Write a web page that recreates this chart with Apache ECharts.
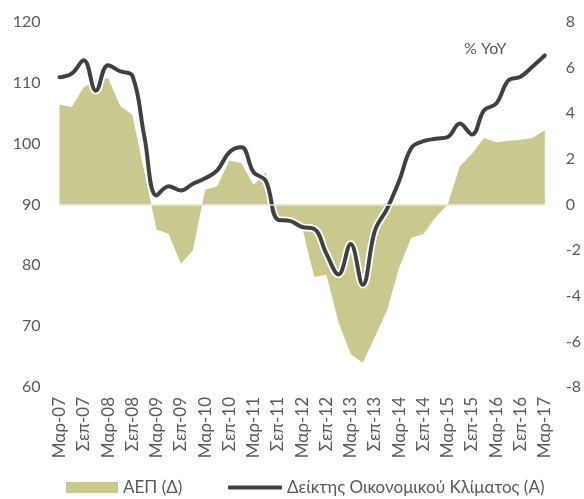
<!DOCTYPE html>
<html>
<head>
<meta charset="utf-8">
<script src="https://cdn.jsdelivr.net/npm/echarts@6/dist/echarts.min.js"></script>
<style>
html,body{margin:0;padding:0;background:#fff;}
#chart{width:584px;height:499px;}
</style>
</head>
<body>
<div id="chart"></div>
<script>
const categories = [
  'Μαρ-07','Ιουν-07','Σεπ-07','Δεκ-07',
  'Μαρ-08','Ιουν-08','Σεπ-08','Δεκ-08',
  'Μαρ-09','Ιουν-09','Σεπ-09','Δεκ-09',
  'Μαρ-10','Ιουν-10','Σεπ-10','Δεκ-10',
  'Μαρ-11','Ιουν-11','Σεπ-11','Δεκ-11',
  'Μαρ-12','Ιουν-12','Σεπ-12','Δεκ-12',
  'Μαρ-13','Ιουν-13','Σεπ-13','Δεκ-13',
  'Μαρ-14','Ιουν-14','Σεπ-14','Δεκ-14',
  'Μαρ-15','Ιουν-15','Σεπ-15','Δεκ-15',
  'Μαρ-16','Ιουν-16','Σεπ-16','Δεκ-16',
  'Μαρ-17'
];

// ΑΕΠ, % YoY (right axis)
const gdp = [
  4.37, 4.27, 5.14, 5.44,
  5.54, 4.33, 3.93, 1.40,
  -1.10, -1.29, -2.60, -2.00,
  0.65, 0.80, 1.93, 1.81,
  0.85, 1.43, -0.60, -0.65,
  -1.00, -3.18, -3.08, -5.16,
  -6.55, -6.94, -5.80, -4.65,
  -2.75, -1.46, -1.29, -0.56,
  0.00, 1.68, 2.22, 2.92,
  2.73, 2.78, 2.84, 2.92,
  3.25
];

// Δείκτης Οικονομικού Κλίματος (left axis)
const sentiment = [
  110.9, 111.5, 113.7, 108.7,
  112.9, 111.9, 111.2, 101.1,
  91.5, 93.0, 92.3, 93.4,
  94.3, 95.6, 98.6, 99.4,
  95.3, 93.9, 87.5, 87.3,
  86.3, 86.0, 81.9, 78.5,
  83.5, 76.8, 85.7, 89.3,
  93.9, 99.3, 100.4, 100.8,
  101.1, 103.3, 101.5, 105.5,
  106.6, 110.4, 111.0, 112.7,
  114.5
];

const leftTicks = {min: 60, max: 120, interval: 10};
const rightTicks = {min: -8, max: 8, interval: 2};

const gdpName = 'ΑΕΠ (Δ)';
const sentName = 'Δείκτης Οικονομικού Κλίματος (Α)';
const unitLabel = '% YoY';

const chart = echarts.init(document.getElementById('chart'), null, {renderer: 'canvas'});
const font = 'Lato, "Open Sans", sans-serif';
const txt = '#595959';
const olive = '#c8c88f';
const dark = '#404040';

chart.setOption({
  animation: false,
  textStyle: {fontFamily: font},
  grid: {left: 59.5, right: 32, top: 22, bottom: 112},
  xAxis: {
    type: 'category',
    data: categories,
    boundaryGap: false,
    axisLine: {show: false},
    axisTick: {show: false},
    splitLine: {show: false},
    axisLabel: {rotate: 90, interval: 1, margin: 10, color: txt, fontSize: 17, fontFamily: font}
  },
  yAxis: [
    {
      type: 'value', min: leftTicks.min, max: leftTicks.max, interval: leftTicks.interval,
      axisLine: {show: false}, axisTick: {show: false}, splitLine: {show: false},
      axisLabel: {color: txt, fontSize: 16, margin: 19, fontFamily: font}
    },
    {
      type: 'value', position: 'right', min: rightTicks.min, max: rightTicks.max, interval: rightTicks.interval,
      axisLine: {show: false}, axisTick: {show: false}, splitLine: {show: false},
      axisLabel: {color: txt, fontSize: 16, margin: 21, align: 'left', fontFamily: font}
    }
  ],
  legend: [
    {
      left: 66, top: 479, padding: 0,
      itemWidth: 52, itemHeight: 11,
      textStyle: {color: txt, fontSize: 17, lineHeight: 17, fontFamily: font},
      data: [{name: gdpName, icon: 'rect'}]
    },
    {
      left: 228, top: 479, padding: 0,
      itemWidth: 54, itemHeight: 4,
      textStyle: {color: txt, fontSize: 17, lineHeight: 17, fontFamily: font},
      data: [{name: sentName, icon: 'roundRect'}]
    }
  ],
  graphic: [{
    type: 'text', left: 464, top: 41,
    style: {text: unitLabel, fill: txt, font: '16px ' + font}
  }],
  series: [
    {
      name: gdpName, type: 'line', yAxisIndex: 1, data: gdp,
      symbol: 'none', lineStyle: {width: 0},
      itemStyle: {color: olive},
      areaStyle: {color: olive, opacity: 1},
      markLine: {
        silent: true, symbol: 'none', label: {show: false},
        lineStyle: {color: '#e8e8d6', width: 1.5, type: 'solid'},
        data: [{yAxis: 0}]
      }
    },
    {
      name: 'halo', type: 'line', yAxisIndex: 0, data: sentiment,
      smooth: 0.4, symbol: 'none', silent: true,
      lineStyle: {color: '#ffffff', width: 7.5}
    },
    {
      name: sentName, type: 'line', yAxisIndex: 0, data: sentiment,
      smooth: 0.4, symbol: 'none',
      itemStyle: {color: dark},
      lineStyle: {color: dark, width: 4, cap: 'round', join: 'round'}
    }
  ]
});
</script>
</body>
</html>
